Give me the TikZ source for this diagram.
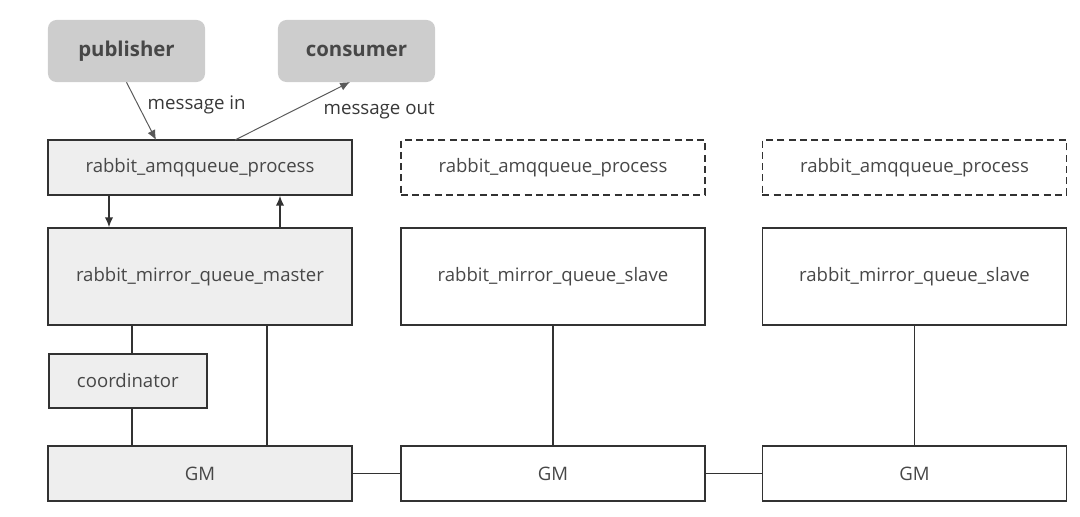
\documentclass[tikz,border=0pt]{standalone}
\usepackage{fontspec}
\setmainfont{Open Sans}
\usetikzlibrary{positioning,arrows.meta}
\definecolor{hdgray}{RGB}{205,205,205}
\definecolor{bxgray}{RGB}{238,238,238}
\definecolor{lngray}{RGB}{50,50,50}
\tikzset{
	box/.style={draw=lngray, line width=1.1pt, minimum width=7.6cm, minimum height=1.375cm, font=\fontsize{13.2}{15}\selectfont, text=black!72, inner sep=0pt},
	shaded/.style={box, fill=bxgray},
	dashbox/.style={box, dashed, dash pattern=on 5pt off 3pt},
	actor/.style={fill=hdgray, rounded corners=6pt, minimum width=3.925cm, minimum height=1.55cm, font=\fontsize{14.5}{16}\selectfont\bfseries, text=black!72},
	link/.style={draw=lngray, line width=1.1pt},
	arr/.style={link, -{Latex[length=7pt,width=6pt]}},
	thin arr/.style={draw=black!65, line width=0.7pt, -{Latex[length=7pt,width=6pt]}},
	lbl/.style={font=\fontsize{13.3}{15}\selectfont, text=black!78}
}
\begin{document}
\begin{tikzpicture}[x=0.025cm, y=-0.025cm]
	\useasboundingbox (0,0) rectangle (1080,516);
	
	% producer and consumer
	\node[actor] (pub) at (126.5,51) {publisher};
	\node[actor] (con) at (356.5,51) {consumer};
	
	% queue processes
	\node[shaded] (amq1) at (200,167.5) {rabbit\_amqqueue\_process};
	\node[dashbox] (amq2) at (553,167.5) {rabbit\_amqqueue\_process};
	\node[dashbox] (amq3) at (914.5,167.5) {rabbit\_amqqueue\_process};
	
	% mirror queues
	\node[shaded, minimum height=2.425cm] (master) at (200,276.5) {rabbit\_mirror\_queue\_master};
	\node[box, minimum height=2.425cm] (slave1) at (553,276.5) {rabbit\_mirror\_queue\_slave};
	\node[box, minimum height=2.425cm] (slave2) at (914.5,276.5) {rabbit\_mirror\_queue\_slave};
	
	\node[shaded, minimum width=3.95cm, minimum height=1.35cm, anchor=west] (coord) at (48,381) {coordinator};
	
	% GM ring
	\node[shaded] (gm1) at (200,473.5) {GM};
	\node[box] (gm2) at (553,473.5) {GM};
	\node[box] (gm3) at (914.5,473.5) {GM};
	
	% messages in and out
	\coordinate (min) at (156,140);
	\coordinate (mout) at (235,140);
	\coordinate (cin) at (350,82);
	\draw[thin arr] (pub.south) -- (min) node[lbl, pos=0.4, right=3pt] {message in};
	\draw[thin arr] (mout) -- (cin) node[lbl, pos=0.75, anchor=north west, xshift=-2pt] {message out};
	
	% amqqueue <-> master
	\coordinate (down) at (109,0);
	\coordinate (up) at (280,0);
	\draw[arr] (amq1.south -| down) -- (master.north -| down);
	\draw[arr] (master.north -| up) -- (amq1.south -| up);
	
	% master to GM
	\coordinate (cl) at (132,0);
	\coordinate (gl) at (267,0);
	\draw[link] (master.south -| cl) -- (coord.north -| cl);
	\draw[link] (coord.south -| cl) -- (gm1.north -| cl);
	\draw[link] (master.south -| gl) -- (gm1.north -| gl);
	\draw[link] (slave1.south) -- (gm2.north -| slave1.south);
	\draw[link] (slave2.south) -- (gm3.north -| slave2.south);
	
	\draw[link] (gm1.east) -- (gm2.west);
	\draw[link] (gm2.east) -- (gm3.west);
\end{tikzpicture}
\end{document}
